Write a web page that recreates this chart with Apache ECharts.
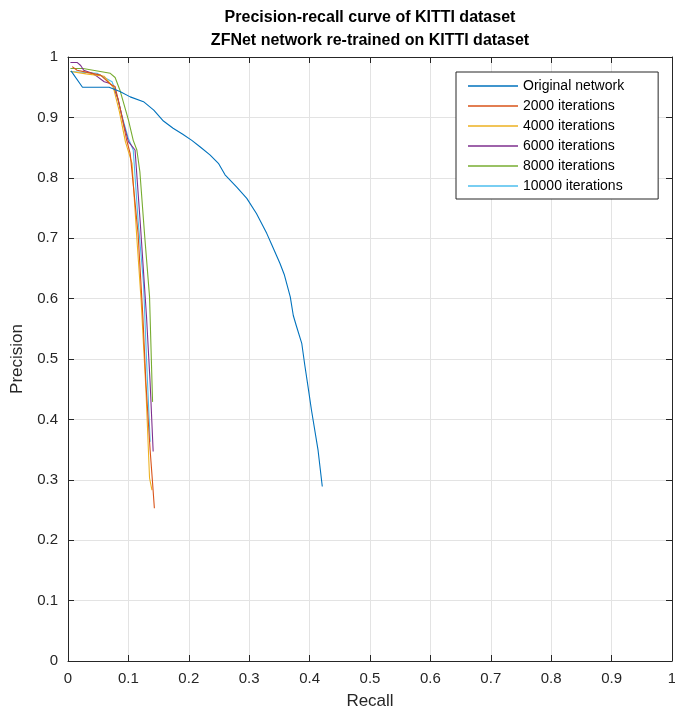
<!DOCTYPE html>
<html>
<head>
<meta charset="utf-8">
<script src="https://cdn.jsdelivr.net/npm/echarts@6/dist/echarts.min.js"></script>
<style>
  html, body { margin: 0; padding: 0; background: #fff; }
  #chart { width: 675px; height: 714px; }
</style>
</head>
<body>
<div id="chart"></div>
<script>
// [recall, precision] pairs
const original = [
  [0.005, 0.977], [0.024, 0.950], [0.068, 0.950], [0.086, 0.943], [0.103, 0.934],
  [0.125, 0.926], [0.142, 0.912], [0.158, 0.894], [0.174, 0.882], [0.19, 0.872],
  [0.205, 0.862], [0.219, 0.851], [0.235, 0.838], [0.249, 0.824], [0.26, 0.805],
  [0.279, 0.785], [0.296, 0.766], [0.312, 0.741], [0.329, 0.708], [0.337, 0.69],
  [0.351, 0.658], [0.358, 0.64], [0.368, 0.603], [0.373, 0.572], [0.378, 0.555],
  [0.387, 0.526], [0.392, 0.49], [0.398, 0.45], [0.403, 0.416], [0.414, 0.349],
  [0.421, 0.289]
];
const it2000 = [
  [0.007, 0.984], [0.015, 0.978], [0.03, 0.975], [0.054, 0.970], [0.07, 0.955],
  [0.078, 0.951], [0.087, 0.912], [0.097, 0.863], [0.103, 0.84], [0.116, 0.708],
  [0.124, 0.57], [0.129, 0.46], [0.136, 0.349], [0.140, 0.295], [0.143, 0.253]
];
const it4000 = [
  [0.004, 0.976], [0.03, 0.972], [0.06, 0.968], [0.075, 0.95], [0.085, 0.91],
  [0.095, 0.86], [0.106, 0.824], [0.114, 0.70], [0.121, 0.598], [0.129, 0.45],
  [0.135, 0.303], [0.139, 0.283]
];
const it6000 = [
  [0.004, 0.991], [0.015, 0.991], [0.021, 0.986], [0.026, 0.978], [0.04, 0.973],
  [0.048, 0.968], [0.06, 0.959], [0.07, 0.956], [0.075, 0.95], [0.083, 0.93],
  [0.092, 0.89], [0.1, 0.86], [0.111, 0.846], [0.12, 0.72], [0.13, 0.57],
  [0.136, 0.46], [0.141, 0.347]
];
const it8000 = [
  [0.004, 0.981], [0.025, 0.981], [0.07, 0.973], [0.078, 0.966], [0.086, 0.945],
  [0.1, 0.896], [0.108, 0.862], [0.114, 0.846], [0.119, 0.81], [0.127, 0.703],
  [0.135, 0.603], [0.140, 0.429]
];
const it10000 = [
  [0.004, 0.976], [0.048, 0.973], [0.073, 0.959], [0.08, 0.94], [0.09, 0.9],
  [0.1, 0.865], [0.108, 0.846], [0.116, 0.73], [0.125, 0.625], [0.13, 0.5],
  [0.136, 0.363]
];
const seriesNames = ["Original network", "2000 iterations", "4000 iterations",
  "6000 iterations", "8000 iterations", "10000 iterations"];
const seriesData = [original, it2000, it4000, it6000, it8000, it10000];
const colors = ["#0072BD", "#D95319", "#EDB120", "#7E2F8E", "#77AC30", "#4DBEEE"];

const font = "Liberation Sans";
const axisColor = "#262626";
const chart = echarts.init(document.getElementById("chart"));

const boxAxis = {
  type: "value", min: 0, max: 1, interval: 0.1,
  axisLine: { show: true, onZero: false, lineStyle: { color: axisColor, width: 1 } },
  axisTick: { show: true, inside: true, length: 6, lineStyle: { color: axisColor } },
  axisLabel: { show: false },
  splitLine: { show: false }
};

chart.setOption({
  animation: false,
  color: colors,
  textStyle: { fontFamily: font },
  graphic: [
    { type: "text", x: 370, y: 10, style: { text: "Precision-recall curve of KITTI dataset",
      font: "bold 16px " + font, fill: "#000", align: "center" } },
    { type: "text", x: 370, y: 33, style: { text: "ZFNet network re-trained on KITTI dataset",
      font: "bold 16px " + font, fill: "#000", align: "center" } }
  ],
  grid: { left: 68, right: 3, top: 57, bottom: 53, outerBoundsMode: "none", containLabel: false },
  legend: {
    orient: "vertical",
    left: 456, top: 72,
    padding: [6, 34, 5, 12],
    icon: "rect",
    itemWidth: 50, itemHeight: 1.5, itemGap: 4,
    backgroundColor: "#fff",
    borderColor: axisColor, borderWidth: 1,
    textStyle: { fontSize: 14, lineHeight: 16, color: "#000", fontFamily: font },
    data: seriesNames
  },
  xAxis: [
    {
      type: "value", min: 0, max: 1, interval: 0.1,
      name: "Recall", nameLocation: "middle", nameGap: 32,
      nameTextStyle: { fontSize: 17, color: axisColor, fontFamily: font },
      axisLine: { show: true, onZero: false, lineStyle: { color: axisColor, width: 1 } },
      axisTick: { show: true, inside: true, length: 6, lineStyle: { color: axisColor } },
      axisLabel: { fontSize: 15, color: axisColor, margin: 10, fontFamily: font },
      splitLine: { show: true, lineStyle: { color: "#e3e3e3", width: 1 } }
    },
    Object.assign({ position: "top" }, boxAxis)
  ],
  yAxis: [
    {
      type: "value", min: 0, max: 1, interval: 0.1,
      name: "Precision", nameLocation: "middle", nameGap: 40,
      nameTextStyle: { fontSize: 17, color: axisColor, fontFamily: font },
      axisLine: { show: true, onZero: false, lineStyle: { color: axisColor, width: 1 } },
      axisTick: { show: true, inside: true, length: 6, lineStyle: { color: axisColor } },
      axisLabel: { fontSize: 15, color: axisColor, margin: 10, fontFamily: font },
      splitLine: { show: true, lineStyle: { color: "#e3e3e3", width: 1 } }
    },
    Object.assign({ position: "right" }, boxAxis)
  ],
  series: seriesNames.map((name, i) => ({
    name: name,
    type: "line",
    data: seriesData[i],
    symbol: "none",
    lineStyle: { width: 1.1, color: colors[i] },
    itemStyle: { color: colors[i] },
    z: 10 - i
  }))
});
</script>
</body>
</html>
